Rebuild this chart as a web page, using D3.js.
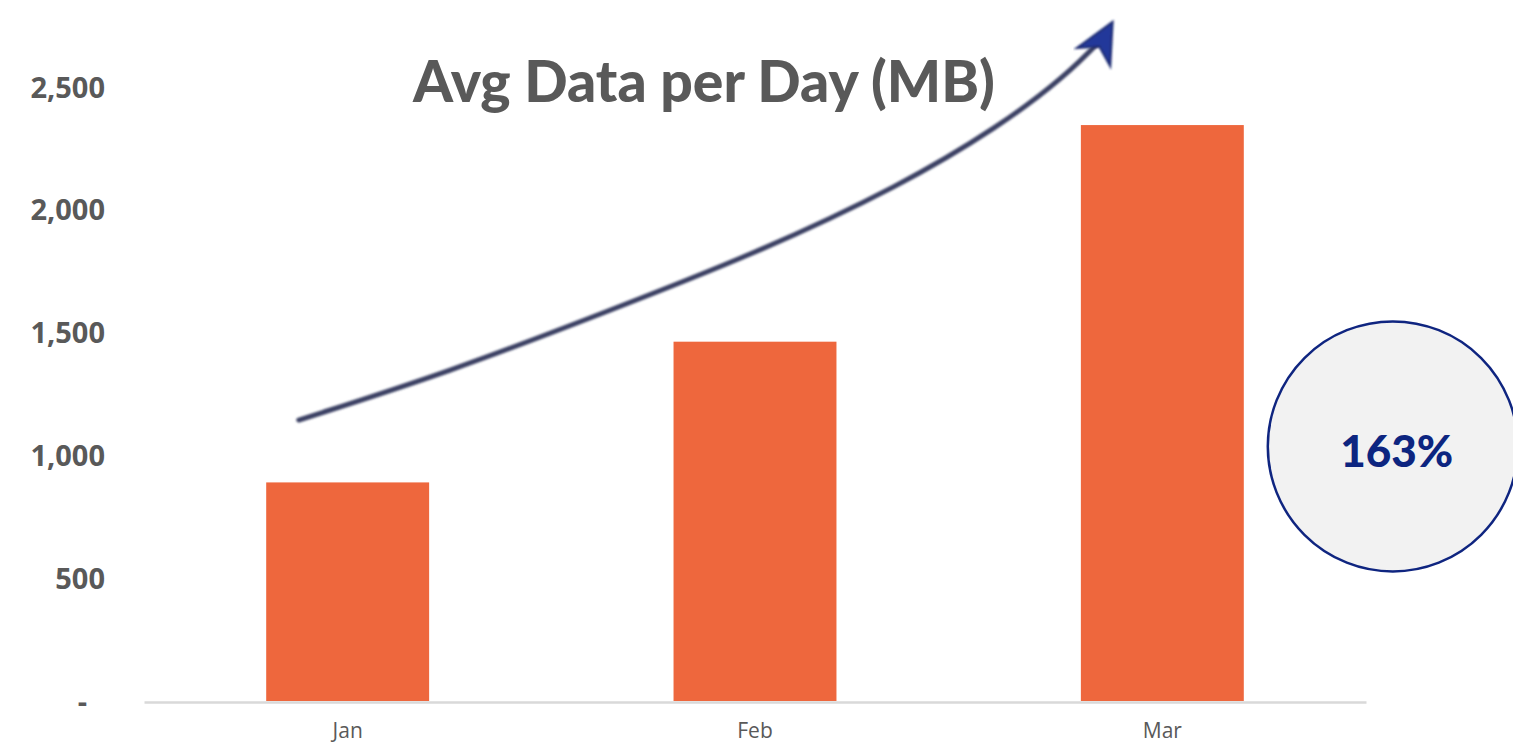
<!DOCTYPE html>
<html>
<head>
<meta charset="utf-8">
<script src="https://cdn.jsdelivr.net/npm/d3@7"></script>
<style>
  html, body { margin: 0; padding: 0; background: #fff; overflow: hidden; }
</style>
</head>
<body>
<div id="chart"></div>
<script>
// data
const months = ["Jan", "Feb", "Mar"];
const avgMB = [890, 1463, 2345];
const yTicks = [0, 500, 1000, 1500, 2000, 2500];
const chartTitle = "Avg Data per Day (MB)";
const growthLabel = "163%";
// trend arrow, in (month index, MB) units
const arrowIdx = [-0.12, 0.25, 0.62, 1.0, 1.36, 1.6, 1.76, 1.86];
const arrowVal = [1144, 1340, 1575, 1820, 2100, 2340, 2540, 2710];

const W = 1513, H = 749;
const margin = {top: 87, right: 147, bottom: 48, left: 144};

const svg = d3.select("#chart").append("svg")
  .attr("width", W).attr("height", H);

const x = d3.scaleBand()
  .domain(months)
  .range([margin.left, W - margin.right])
  .paddingInner(0.6)
  .paddingOuter(0.3);

const y = d3.scaleLinear()
  .domain([0, 2500])
  .range([H - margin.bottom, margin.top]);

// index scale for the arrow (band centres)
const xi = d3.scaleLinear()
  .domain([0, 1])
  .range([x("Jan") + x.bandwidth() / 2, x("Feb") + x.bandwidth() / 2]);

// y axis labels, no line
const yAxis = svg.append("g")
  .attr("transform", "translate(105,0)")
  .call(d3.axisLeft(y).tickValues(yTicks).tickSize(0)
    .tickFormat(d => d === 0 ? "-" : d3.format(",")(d)));
yAxis.select(".domain").remove();
yAxis.selectAll("text")
  .attr("x", 0)
  .attr("dy", "0.35em")
  .style("font-family", "'Open Sans', sans-serif")
  .style("font-weight", "700")
  .style("font-size", "29px")
  .style("fill", "#595959");
yAxis.selectAll(".tick").filter(d => d === 0).select("text")
  .attr("x", -18);

// bars
svg.append("g").selectAll("rect")
  .data(months)
  .join("rect")
  .attr("x", d => x(d))
  .attr("width", x.bandwidth())
  .attr("y", (d, i) => y(avgMB[i]))
  .attr("height", (d, i) => y(0) - y(avgMB[i]))
  .attr("fill", "#ee673d");

// x axis
const xAxis = svg.append("g")
  .attr("transform", "translate(0," + (y(0) + 1) + ")")
  .call(d3.axisBottom(x).tickSize(0).tickSizeOuter(0));
xAxis.select(".domain")
  .attr("stroke", "#d9d9d9")
  .attr("stroke-width", 2.5);
xAxis.selectAll("text")
  .attr("y", 21)
  .attr("dy", "0.71em")
  .style("font-family", "'Liberation Sans Narrow', 'Open Sans', sans-serif")
  .style("font-size", "21px")
  .style("fill", "#595959");

// trend arrow
const defs = svg.append("defs");
defs.append("filter").attr("id", "soft")
  .append("feGaussianBlur").attr("stdDeviation", 0.9);

const pts = arrowIdx.map((d, i) => [xi(d), y(arrowVal[i])]);
const line = d3.line().curve(d3.curveBasis);
svg.append("path")
  .attr("d", line(pts))
  .attr("fill", "none")
  .attr("stroke", "#3b4163")
  .attr("stroke-width", 5)
  .attr("stroke-linecap", "round")
  .attr("filter", "url(#soft)");

// arrow head at the end of the curve
const tip = [xi(1.878), y(2765)];
const last = pts[pts.length - 1];
const ang = Math.atan2(tip[1] - last[1], tip[0] - last[0]);
const head = [
  tip,
  [tip[0] - 40 * Math.cos(ang) + 19 * Math.sin(ang), tip[1] - 40 * Math.sin(ang) - 19 * Math.cos(ang)],
  [tip[0] - 28 * Math.cos(ang), tip[1] - 28 * Math.sin(ang)],
  [tip[0] - 40 * Math.cos(ang) - 19 * Math.sin(ang), tip[1] - 40 * Math.sin(ang) + 19 * Math.cos(ang)]
];
svg.append("path")
  .attr("d", "M" + head.join("L") + "Z")
  .attr("fill", "#22399a")
  .attr("stroke", "#1b2a70")
  .attr("stroke-width", 2)
  .attr("filter", "url(#soft)");

// title
const title = svg.append("text")
  .attr("x", 413)
  .attr("y", 102)
  .style("font-family", "Lato, 'Open Sans', sans-serif")
  .style("font-weight", "900")
  .style("font-size", "55px")
  .style("fill", "#595959")
  .text(chartTitle);
const tw = title.node().getComputedTextLength();
title.style("font-size", (55 * 582 / tw) + "px");

// growth bubble
const cx = x("Mar") + x.bandwidth() + 149;
const cy = y(1000) - 9;
svg.append("circle")
  .attr("cx", cx).attr("cy", cy).attr("r", 125)
  .attr("fill", "#f2f2f2")
  .attr("stroke", "#0f2580")
  .attr("stroke-width", 2.5);
svg.append("text")
  .attr("x", cx + 4)
  .attr("y", cy + 21)
  .attr("text-anchor", "middle")
  .style("font-family", "Lato, 'Open Sans', sans-serif")
  .style("font-weight", "900")
  .style("font-size", "44px")
  .style("fill", "#0d2580")
  .text(growthLabel);
</script>
</body>
</html>
